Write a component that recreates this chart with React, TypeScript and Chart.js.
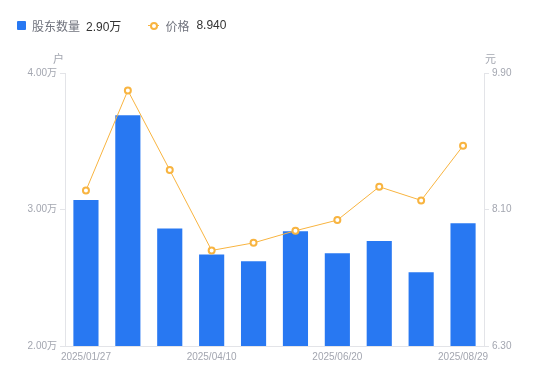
import React, { useEffect, useRef } from "react";
import { Chart, registerables } from "chart.js";

Chart.register(...registerables);

const categories = [
  "2025/01/27", "2025/02/28", "2025/03/31", "2025/04/10", "2025/04/30",
  "2025/05/30", "2025/06/20", "2025/06/30", "2025/07/31", "2025/08/29",
];
const holders = [30700, 36900, 28600, 26700, 26200, 28400, 26800, 27700, 25400, 29000];
const prices = [8.35, 9.67, 8.62, 7.56, 7.66, 7.82, 7.96, 8.40, 8.22, 8.94];
const leftTicks = [20000, 30000, 40000];
const rightTicks = [6.3, 8.1, 9.9];

const FONT = '"Liberation Sans", "Noto Sans CJK SC", sans-serif';
const BAR = "#2878f2";
const LINE = "#f8b440";
const AXIS = "#e3e4e8";
const TICK = "#a3a6b0";

export default function App() {
  const ref = useRef<HTMLCanvasElement>(null);
  useEffect(() => {
    document.body.style.margin = "0";
    const ctx = ref.current!;
    const chart = new Chart(ctx, {
      type: "bar",
      data: {
        labels: categories,
        datasets: [
          {
            type: "line",
            label: "价格",
            data: prices,
            yAxisID: "y1",
            borderColor: LINE,
            borderWidth: 1,
            pointRadius: 3,
            pointBorderWidth: 2,
            pointBackgroundColor: "#ffffff",
            pointBorderColor: LINE,
            tension: 0,
            order: 0,
          },
          {
            type: "bar",
            label: "股东数量",
            data: holders,
            yAxisID: "y",
            backgroundColor: BAR,
            categoryPercentage: 0.6,
            barPercentage: 1,
            order: 1,
          },
        ],
      },
      options: {
        animation: false,
        responsive: false,
        maintainAspectRatio: false,
        layout: { padding: { top: 73, left: 0, right: 0, bottom: 0 } },
        plugins: { legend: { display: false }, tooltip: { enabled: false } },
        scales: {
          x: {
            grid: { display: false, drawTicks: false },
            border: { display: true, color: AXIS },
            ticks: {
              autoSkip: false,
              maxRotation: 0,
              padding: 5,
              color: TICK,
              font: { family: FONT, size: 10 },
              callback: (_v: any, i: number) => (i % 3 === 0 ? categories[i] : ""),
            },
            afterFit: (s: any) => { s.height = 35; },
          },
          y: {
            position: "left",
            min: 20000,
            max: 40000,
            afterBuildTicks: (s: any) => { s.ticks = leftTicks.map((v) => ({ value: v })); },
            grid: { drawOnChartArea: false, drawTicks: true, tickLength: 5, color: AXIS },
            border: { display: true, color: AXIS },
            ticks: {
              padding: 3,
              color: TICK,
              font: { family: FONT, size: 10 },
              callback: (v: any) => (Number(v) / 10000).toFixed(2) + "万",
            },
            afterFit: (s: any) => { s.width = 65; },
          },
          y1: {
            position: "right",
            min: 6.3,
            max: 9.9,
            afterBuildTicks: (s: any) => { s.ticks = rightTicks.map((v) => ({ value: v })); },
            grid: { drawOnChartArea: false, drawTicks: true, tickLength: 5, color: AXIS },
            border: { display: true, color: AXIS },
            ticks: {
              padding: 3,
              color: TICK,
              font: { family: FONT, size: 10 },
              callback: (v: any) => Number(v).toFixed(2),
            },
            afterFit: (s: any) => { s.width = 66; },
          },
        },
      },
    });
    return () => chart.destroy();
  }, []);

  const lastHolder = (holders[holders.length - 1] / 10000).toFixed(2) + "万";
  const lastPrice = prices[prices.length - 1].toFixed(3);

  return (
    <div style={{ position: "fixed", left: 0, top: 0, width: 550, height: 381, fontFamily: FONT, background: "#fff" }}>
      <canvas ref={ref} width={550} height={381} style={{ position: "absolute", left: 0, top: 0, width: 550, height: 381 }} />
      <div style={{ position: "absolute", left: 17, top: 16, height: 18, display: "flex", alignItems: "center", fontSize: 12 }}>
        <span style={{ width: 9, height: 9, background: BAR, borderRadius: 1, display: "inline-block" }} />
        <span style={{ marginLeft: 6, color: "#70737d" }}>股东数量</span>
        <span style={{ marginLeft: 6, color: "#333333" }}>{lastHolder}</span>
        <span style={{ marginLeft: 27, position: "relative", width: 11, height: 9, display: "inline-block" }}>
          <span style={{ position: "absolute", left: 0, top: 4, width: 11, height: 1, background: LINE }} />
          <span style={{ position: "absolute", left: 2, top: 1, width: 4, height: 4, border: `2px solid ${LINE}`, borderRadius: "50%", background: "#fff", boxSizing: "content-box", marginLeft: -0.5 }} />
        </span>
        <span style={{ marginLeft: 6, color: "#70737d" }}>价格</span>
        <span style={{ marginLeft: 7, color: "#333333" }}>{lastPrice}</span>
      </div>
      <div style={{ position: "absolute", left: 53, top: 50, fontSize: 11, color: TICK }}>户</div>
      <div style={{ position: "absolute", left: 485, top: 50, fontSize: 11, color: TICK }}>元</div>
    </div>
  );
}
